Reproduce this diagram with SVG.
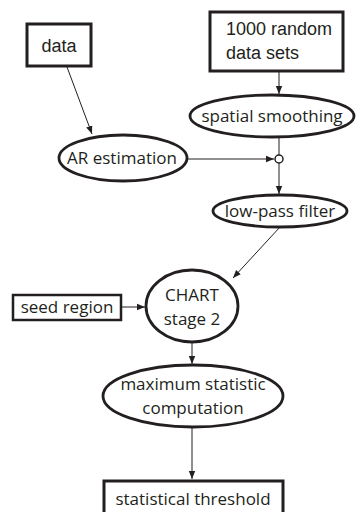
<svg xmlns="http://www.w3.org/2000/svg" width="356" height="512" viewBox="0 0 356 512">
<style>
.box{fill:#fff;stroke:#231f20;stroke-width:3}
.ell{fill:#fff;stroke:#231f20;stroke-width:2.8}
.ha{font-family:"Liberation Sans",Arial,sans-serif;font-size:18px;fill:#231f20}
.my{font-family:"Open Sans","Noto Sans",sans-serif;font-size:17px;fill:#231f20;text-anchor:middle}
.con line{stroke:#231f20;stroke-width:1;marker-end:url(#ah)}
</style>
<defs>
<marker id="ah" viewBox="0 0 10 10" refX="10" refY="5" markerWidth="8" markerHeight="8" markerUnits="userSpaceOnUse" orient="auto">
<path d="M0,1 L10,5 L0,9 Z" fill="#231f20"/>
</marker>
</defs>
<rect width="356" height="512" fill="#fff"/>
<g id="data"><rect class="box" x="27" y="24" width="64" height="42"/><text class="ha" x="59" y="52" text-anchor="middle">data</text></g>
<g id="random"><rect class="box" x="210" y="12" width="133" height="59"/><text class="ha" x="226" y="35">1000 random</text><text class="ha" x="226" y="59">data sets</text></g>
<g id="smoothing"><ellipse class="ell" cx="272" cy="116" rx="82" ry="21"/><text class="my" x="272" y="122">spatial smoothing</text></g>
<g id="ar"><ellipse class="ell" cx="123" cy="158" rx="64" ry="23"/><text class="my" x="122" y="164">AR estimation</text></g>
<g id="junction"><circle cx="279" cy="159" r="4" fill="#fff" stroke="#231f20" stroke-width="1.5"/></g>
<g id="lowpass"><ellipse class="ell" cx="280" cy="211" rx="67" ry="16"/><text class="my" x="280" y="217">low-pass filter</text></g>
<g id="seed"><rect class="box" x="13" y="295" width="108" height="25" style="stroke-width:2.5"/><text class="my" x="67" y="313">seed region</text></g>
<g id="chart"><ellipse class="ell" cx="192" cy="306" rx="46" ry="36"/><text class="my" x="192" y="301">CHART</text><text class="my" x="192" y="325">stage 2</text></g>
<g id="maxstat"><ellipse class="ell" cx="193" cy="396" rx="90" ry="31"/><text class="my" x="193" y="390">maximum statistic</text><text class="my" x="193" y="414">computation</text></g>
<g id="threshold"><rect class="box" x="104" y="481" width="179" height="40"/><text class="my" x="193" y="505">statistical threshold</text></g>
<g class="con">
<line x1="279" y1="72" x2="279" y2="94"/>
<line x1="67" y1="67" x2="92" y2="134"/>
<line x1="187" y1="159" x2="274" y2="159"/>
<line x1="279" y1="137" x2="279" y2="155" style="marker-end:none"/>
<line x1="279" y1="163" x2="279" y2="194"/>
<line x1="280" y1="227" x2="233" y2="278"/>
<line x1="121" y1="307" x2="145" y2="307"/>
<line x1="192" y1="342" x2="192" y2="364"/>
<line x1="192" y1="427" x2="192" y2="479"/>
</g>
</svg>
